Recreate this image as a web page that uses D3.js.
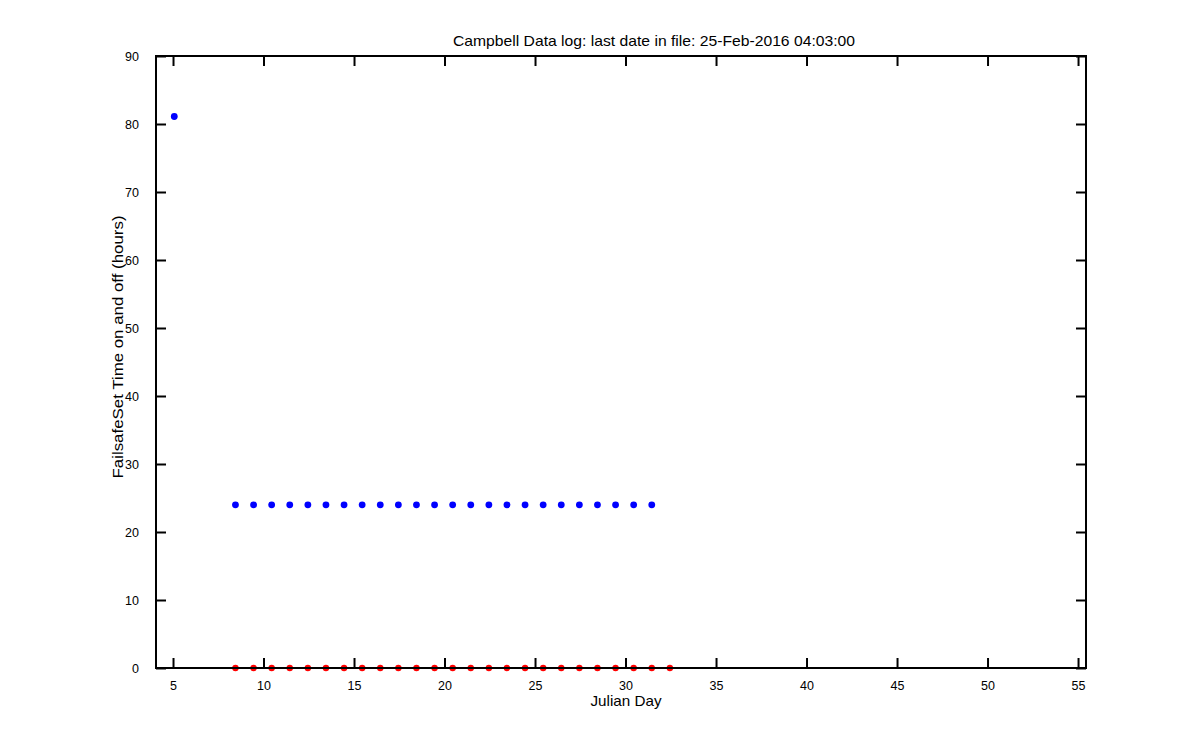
<!DOCTYPE html>
<html>
<head>
<meta charset="utf-8">
<script src="https://cdn.jsdelivr.net/npm/d3@7"></script>
<style>
  html, body { margin: 0; padding: 0; background: #fff; }
  svg { display: block; font-family: "Liberation Sans", Arial, sans-serif; }
</style>
</head>
<body>
<svg id="chart" width="1200" height="750"></svg>
<script>
// ---- Data ----
const titleText = "Campbell Data log: last date in file: 25-Feb-2016 04:03:00";
const xLabelText = "Julian Day";
const yLabelText = "FailsafeSet Time on and off (hours)";

const xTicks = [5, 10, 15, 20, 25, 30, 35, 40, 45, 50, 55];
const yTicks = [0, 10, 20, 30, 40, 50, 60, 70, 80, 90];

// "on" series (blue)
const onDays  = [5.07, 8.45, 9.45, 10.45, 11.45, 12.45, 13.45, 14.45, 15.45, 16.45, 17.45, 18.45, 19.45,
                 20.45, 21.45, 22.45, 23.45, 24.45, 25.45, 26.45, 27.45, 28.45, 29.45, 30.45, 31.45];
const onHours = [81.1, 24, 24, 24, 24, 24, 24, 24, 24, 24, 24, 24, 24,
                 24, 24, 24, 24, 24, 24, 24, 24, 24, 24, 24, 24];

// "off" series (red)
const offDays  = [8.45, 9.45, 10.45, 11.45, 12.45, 13.45, 14.45, 15.45, 16.45, 17.45, 18.45, 19.45, 20.45,
                  21.45, 22.45, 23.45, 24.45, 25.45, 26.45, 27.45, 28.45, 29.45, 30.45, 31.45, 32.45];
const offHours = [0, 0, 0, 0, 0, 0, 0, 0, 0, 0, 0, 0, 0,
                  0, 0, 0, 0, 0, 0, 0, 0, 0, 0, 0, 0];

// ---- Layout ----
const L = 156, R = 1086, T = 56, B = 668;
const svg = d3.select("#chart");

const x = d3.scaleLinear().domain([4.06, 55.44]).range([L, R]);
const y = d3.scaleLinear().domain([0, 90]).range([B, T]);

// points (drawn under axes, as in the reference)
const gPts = svg.append("g");
gPts.selectAll("circle.on")
  .data(onDays.map((d, i) => [d, onHours[i]]))
  .join("circle")
  .attr("class", "on")
  .attr("cx", d => x(d[0]))
  .attr("cy", d => y(d[1]))
  .attr("r", 3.4)
  .attr("fill", "#0000ff");

gPts.selectAll("circle.off")
  .data(offDays.map((d, i) => [d, offHours[i]]))
  .join("circle")
  .attr("class", "off")
  .attr("cx", d => x(d[0]))
  .attr("cy", d => y(d[1]))
  .attr("r", 3.2)
  .attr("fill", "#ff0000");

// axes (ticks inward, box on)
const tickLen = 10;
function styleAxis(g) {
  g.select(".domain").remove();
  g.selectAll(".tick line").attr("stroke", "#000").attr("stroke-width", 2);
  g.selectAll(".tick text").attr("fill", "#000")
    .style("font-family", '"Liberation Sans", Arial, sans-serif')
    .style("font-size", "12.5px");
}

svg.append("g")
  .attr("transform", `translate(0,${B})`)
  .call(d3.axisBottom(x).tickValues(xTicks).tickFormat(d3.format("d"))
        .tickSizeInner(-tickLen).tickSizeOuter(0).tickPadding(13))
  .call(styleAxis);

svg.append("g")
  .attr("transform", `translate(0,${T})`)
  .call(d3.axisTop(x).tickValues(xTicks).tickFormat("")
        .tickSizeInner(-tickLen).tickSizeOuter(0))
  .call(styleAxis);

svg.append("g")
  .attr("transform", `translate(${L},0)`)
  .call(d3.axisLeft(y).tickValues(yTicks).tickFormat(d3.format("d"))
        .tickSizeInner(-tickLen).tickSizeOuter(0).tickPadding(17))
  .call(styleAxis);

svg.append("g")
  .attr("transform", `translate(${R},0)`)
  .call(d3.axisRight(y).tickValues(yTicks).tickFormat("")
        .tickSizeInner(-tickLen).tickSizeOuter(0))
  .call(styleAxis);

// box
svg.append("rect")
  .attr("x", L).attr("y", T)
  .attr("width", R - L).attr("height", B - T)
  .attr("fill", "none").attr("stroke", "#000").attr("stroke-width", 2);

// title & labels
svg.append("text")
  .attr("x", 654).attr("y", 46)
  .attr("text-anchor", "middle")
  .attr("textLength", 402).attr("lengthAdjust", "spacingAndGlyphs")
  .style("font-size", "15px")
  .text(titleText);

svg.append("text")
  .attr("x", 626).attr("y", 706)
  .attr("text-anchor", "middle")
  .attr("textLength", 71).attr("lengthAdjust", "spacingAndGlyphs")
  .style("font-size", "15px")
  .text(xLabelText);

svg.append("text")
  .attr("transform", "translate(123,347) rotate(-90)")
  .attr("text-anchor", "middle")
  .attr("textLength", 263).attr("lengthAdjust", "spacingAndGlyphs")
  .style("font-size", "15px")
  .text(yLabelText);
</script>
</body>
</html>
